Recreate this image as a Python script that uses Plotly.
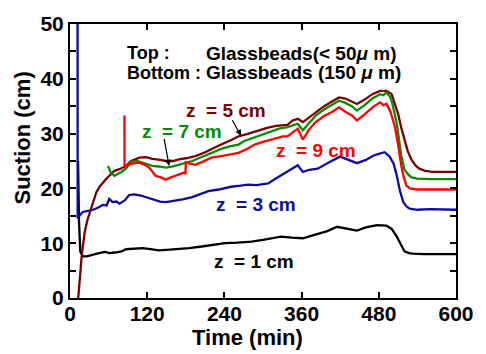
import plotly.graph_objects as go

# ---- data ----
black_t = [12.5, 14, 16, 20, 26, 35, 45, 55, 61, 70, 80, 87, 100, 113, 125, 138, 150, 169, 185, 205, 220, 241, 260, 282, 300, 328, 345, 362, 380, 400, 415, 430, 446, 460, 477, 492, 500, 508, 515, 520, 527, 533, 550, 570, 600]
black_v = [25, 14, 8.5, 7.6, 7.6, 7.9, 8.2, 8.4, 8.2, 8.3, 8.5, 8.9, 9.0, 9.1, 8.9, 8.7, 8.8, 8.9, 9.1, 9.4, 9.6, 10.0, 10.1, 10.3, 10.6, 11.2, 11.0, 10.9, 11.5, 12.2, 13.0, 12.6, 12.3, 12.9, 13.3, 13.2, 12.6, 11.2, 9.5, 8.5, 8.2, 8.1, 8.0, 8.0, 8.0]

blue_t = [11.8, 11.9, 13, 16, 20, 28, 36, 44, 51, 57, 61, 66, 72, 77, 85, 92, 100, 110, 118, 130, 140, 149, 160, 175, 190, 205, 215, 231, 250, 265, 277, 290, 308, 320, 330, 345, 354, 362, 372, 385, 392, 405, 420, 434, 446, 460, 472, 480, 489, 497, 503, 508, 513, 518, 523, 528, 540, 560, 580, 600]
blue_v = [50, 14.5, 14.8, 15.2, 15.7, 15.9, 16.1, 16.5, 17.0, 16.9, 18.1, 17.5, 17.6, 17.2, 17.8, 18.8, 18.9, 18.7, 18.4, 18.0, 17.6, 17.5, 17.7, 18.0, 18.4, 19.0, 19.5, 19.8, 20.3, 20.5, 20.7, 20.6, 20.9, 21.8, 22.5, 23.6, 24.2, 23.0, 23.4, 23.6, 24.1, 24.9, 25.8, 25.2, 24.6, 25.2, 26.0, 26.3, 26.6, 25.8, 24.5, 22.3, 19.5, 17.5, 16.7, 16.3, 16.1, 16.2, 16.1, 16.1]

brown_t = [12.8, 15, 18, 20, 23, 27, 31, 36, 41, 46, 51, 56, 61, 69, 77, 87, 95, 108, 118, 128, 140, 149, 160, 169, 180, 195, 210, 220, 235, 250, 262, 275, 290, 305, 320, 338, 346, 354, 362, 372, 382, 395, 408, 418, 428, 438, 446, 458, 470, 482, 492, 500, 505, 510, 515, 520, 525, 531, 537, 543, 552, 564, 580, 600]
brown_v = [0, 3.5, 7.4, 9.5, 12.1, 14.2, 15.7, 17.6, 19.3, 20.3, 21.1, 21.7, 22.3, 23.2, 23.5, 24.1, 25.0, 25.6, 25.7, 25.4, 25.2, 25.0, 25.0, 25.3, 25.5, 25.9, 26.6, 27.2, 28.0, 28.8, 29.5, 29.9, 30.5, 31.0, 31.4, 31.6, 32.4, 32.7, 32.1, 33.0, 34.0, 35.0, 35.9, 36.6, 36.4, 35.8, 35.4, 36.2, 37.2, 37.8, 37.8, 37.2, 35.6, 33.6, 31.0, 28.8, 26.8, 25.2, 24.2, 23.6, 23.2, 23.0, 23.0, 23.0]

green_t = [59, 63, 69, 75, 80, 87, 95, 104, 113, 120, 128, 138, 149, 160, 169, 180, 190, 200, 210, 220, 235, 250, 262, 270, 280, 295, 310, 325, 338, 346, 354, 362, 372, 382, 395, 408, 418, 428, 438, 446, 458, 470, 482, 487, 492, 497, 500, 504, 508, 512, 515, 520, 526, 531, 540, 560, 580, 600]
green_v = [24.1, 23.0, 22.3, 22.6, 23.0, 23.6, 24.9, 25.0, 24.7, 24.5, 24.1, 24.0, 23.8, 24.0, 24.3, 24.7, 25.0, 25.5, 26.0, 26.5, 27.2, 27.7, 28.0, 28.6, 29.0, 29.7, 30.3, 30.9, 31.2, 31.5, 31.8, 30.6, 32.0, 33.3, 34.4, 35.3, 36.0, 35.6, 35.0, 34.2, 35.2, 36.4, 37.2, 37.0, 37.5, 36.8, 36.0, 34.0, 31.8, 28.5, 25.9, 23.4, 22.5, 22.0, 21.8, 21.7, 21.7, 21.7]

red_t = [84.6, 84.8, 87, 95, 108, 116, 123, 133, 141, 149, 157, 164, 171, 178, 179.5, 180, 187, 195, 205, 220, 235, 250, 262, 275, 287, 300, 315, 331, 338, 346, 354, 362, 372, 382, 395, 408, 418, 428, 438, 446, 458, 470, 482, 487, 492, 498, 505, 510, 515, 519, 523, 528, 540, 560, 580, 600]
red_v = [33.3, 24.1, 24.1, 24.5, 24.7, 24.3, 23.8, 22.3, 22.0, 21.6, 22.0, 22.3, 22.6, 22.9, 22.6, 24.8, 24.5, 24.3, 24.8, 25.6, 25.9, 26.2, 26.5, 27.2, 28.0, 28.5, 29.0, 29.5, 29.5, 30.2, 30.9, 28.9, 30.8, 32.1, 33.2, 34.0, 34.8, 34.0, 33.3, 32.4, 33.5, 34.8, 35.7, 35.2, 35.4, 34.0, 31.3, 28.0, 24.1, 22.0, 20.5, 20.0, 19.8, 19.8, 19.8, 19.8]

x_ticks = [0, 120, 240, 360, 480, 600]
y_tickvals = [0, 5, 10, 15, 20, 25, 30, 35, 40, 45, 50]
y_ticktext = ["0", "", "10", "", "20", "", "30", "", "40", "", "50"]

FONT = "Liberation Sans, Arial, sans-serif"

series = [
    (black_t, black_v, "#000000"),
    (blue_t, blue_v, "#0c0ca0"),
    (brown_t, brown_v, "#7a0000"),
    (green_t, green_v, "#088a08"),
    (red_t, red_v, "#ff0000"),
]

fig = go.Figure()
for t, v, c in series:
    fig.add_trace(go.Scatter(x=t, y=v, mode="lines", line=dict(color=c, width=2.3),
                             showlegend=False, hoverinfo="skip"))

axis_common = dict(showline=True, linecolor="black", linewidth=2, mirror="ticks",
                   ticks="inside", ticklen=6, tickwidth=1.5, tickcolor="black",
                   showgrid=False, zeroline=False,
                   tickfont=dict(family=FONT, size=21, color="black"))

fig.update_xaxes(range=[0, 600], tickvals=x_ticks, ticklabelstandoff=-4,
                 ticktext=["<b>%d</b>" % v for v in x_ticks], **axis_common)
fig.update_yaxes(range=[0, 50], tickvals=y_tickvals,
                 ticktext=["<b>%s</b>" % s if s else "" for s in y_ticktext], **axis_common)

# axis titles (paper coords: fraction of plot area)
fig.add_annotation(x=0.459, y=-0.143, xref="paper", yref="paper", text="<b>Time (min)</b>",
                   showarrow=False, xanchor="center", yanchor="middle",
                   font=dict(family=FONT, size=22, color="black"))
fig.add_annotation(x=-0.123, y=0.584, xref="paper", yref="paper", text="<b>Suction (cm)</b>",
                   showarrow=False, xanchor="center", yanchor="middle", textangle=-90,
                   font=dict(family=FONT, size=22, color="black"))

def label(x, y, text, color, size=19, xanchor="center"):
    fig.add_annotation(x=x, y=y, xref="x", yref="y", text="<b>" + text + "</b>",
                       showarrow=False, xanchor=xanchor, yanchor="middle",
                       font=dict(family=FONT, size=size, color=color))

label(86, 44.7, "Top :", "black", 18, "left")
label(86, 41.1, "Bottom :", "black", 18, "left")
label(208, 44.7, "Glassbeads(&lt; 50<i>μ</i> m)", "black", 19, "left")
label(208, 41.1, "Glassbeads (150 <i>μ</i> m)", "black", 19, "left")
label(242, 34.3, "z  = 5 cm", "#7a0000")
label(174, 30.4, "z  = 7 cm", "#088a08")
label(383, 27.0, "z  = 9 cm", "#ff0000")
label(289, 17.0, "z  = 3 cm", "#0c0ca0")
label(286, 6.6, "z  = 1 cm", "black")

# arrows
fig.add_annotation(x=266, y=29.6, ax=251, ay=32.7, xref="x", yref="y", axref="x", ayref="y",
                   text="", showarrow=True, arrowhead=2, arrowsize=1, arrowwidth=1.2, arrowcolor="black")
fig.add_annotation(x=154, y=24.1, ax=146, ay=29.3, xref="x", yref="y", axref="x", ayref="y",
                   text="", showarrow=True, arrowhead=2, arrowsize=1, arrowwidth=1.2, arrowcolor="black")

fig.update_layout(width=486, height=354, margin=dict(l=70, r=26, t=19, b=56),
                  paper_bgcolor="white", plot_bgcolor="white",
                  font=dict(family=FONT, color="black"))

fig.write_html("out.html")
